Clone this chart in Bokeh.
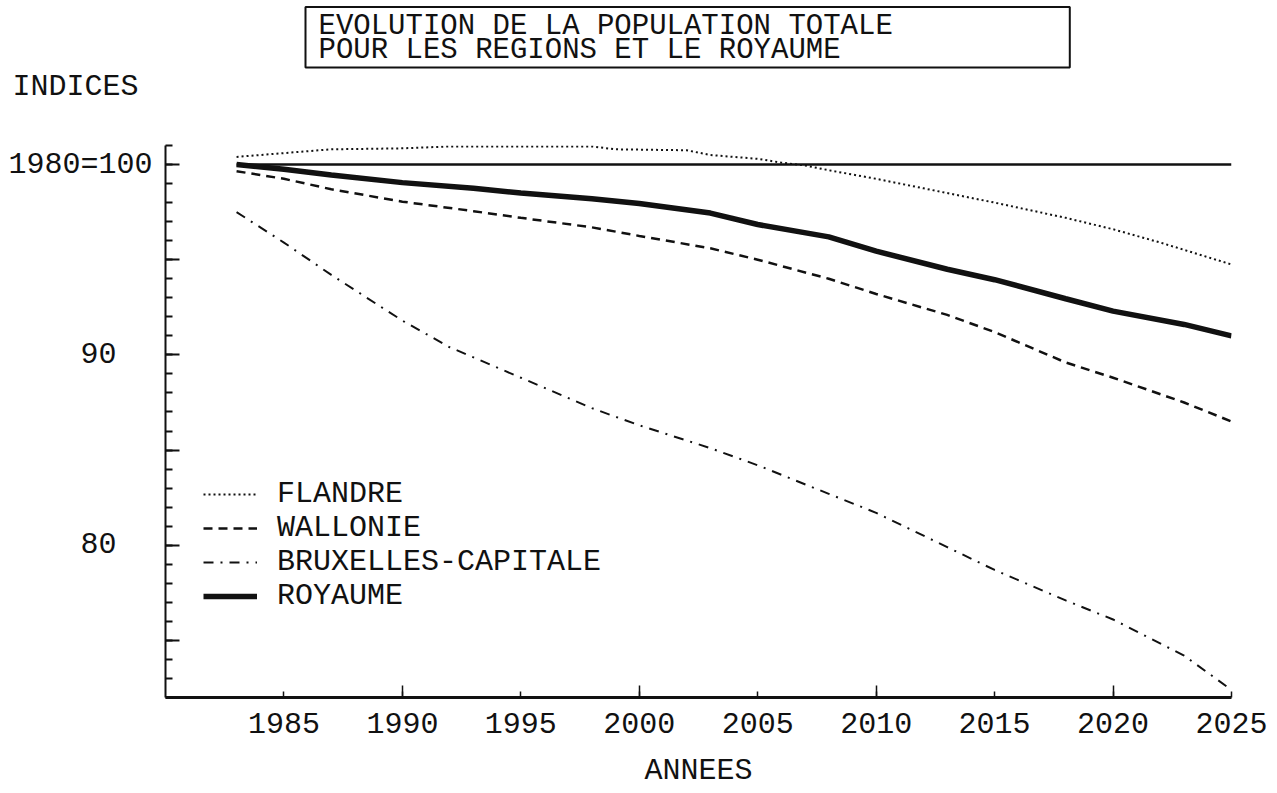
from bokeh.plotting import figure
from bokeh.models import Range1d, FixedTicker, Title
from bokeh.embed import file_html
from bokeh.resources import INLINE

FONT = "Liberation Mono"
INK = "#111111"

# ---- data -------------------------------------------------------------
X_TICKS = [1985, 1990, 1995, 2000, 2005, 2010, 2015, 2020, 2025]
X_LONG_TICKS = [1990, 2000, 2010, 2020]
Y_MAJOR = [75, 80, 85, 90, 95, 100]
Y_MINOR = [72, 73, 74, 75, 76, 77, 78, 79, 80, 81, 82, 83, 84, 85, 86,
           87, 88, 89, 90, 91, 92, 93, 94, 95, 96, 97, 98, 99, 100, 101]
# plotter prints the y labels in a fixed 8-character field
Y_LABELS = {100: "1980=100", 95: "", 90: "90\u00a0\u00a0", 85: "",
            80: "80\u00a0\u00a0", 75: ""}

FLANDRE_YEARS = [1983, 1985, 1987, 1990, 1992, 1995, 1998, 1999, 2002, 2003,
                 2005, 2006, 2007, 2008, 2010, 2012, 2015, 2018, 2020, 2022, 2025]
FLANDRE = [100.4, 100.6, 100.8, 100.85, 100.95, 100.95, 100.95, 100.8, 100.75, 100.5,
           100.3, 100.1, 99.95, 99.7, 99.25, 98.75, 98.0, 97.2, 96.6, 95.9, 94.75]

WALLONIE_YEARS = [1983, 1985, 1987, 1990, 1993, 1995, 1998, 2000, 2003, 2005,
                  2008, 2010, 2013, 2015, 2018, 2020, 2023, 2025]
WALLONIE = [99.65, 99.25, 98.7, 98.05, 97.55, 97.2, 96.7, 96.25, 95.6, 95.0,
            94.0, 93.2, 92.1, 91.2, 89.6, 88.8, 87.5, 86.5]

BRUXELLES_YEARS = [1983, 1985, 1987, 1990, 1992, 1995, 1998, 2000, 2003, 2005,
                   2008, 2010, 2013, 2015, 2018, 2020, 2023, 2025]
BRUXELLES = [97.5, 95.9, 94.2, 91.8, 90.4, 88.8, 87.2, 86.3, 85.1, 84.2,
             82.7, 81.7, 79.9, 78.7, 77.1, 76.1, 74.2, 72.4]

ROYAUME_YEARS = [1983, 1985, 1987, 1990, 1993, 1995, 1998, 2000, 2003, 2005,
                 2008, 2010, 2013, 2015, 2018, 2020, 2023, 2025]
ROYAUME = [100.0, 99.75, 99.45, 99.05, 98.75, 98.5, 98.2, 97.95, 97.45, 96.85,
           96.2, 95.45, 94.5, 93.95, 92.95, 92.3, 91.6, 91.0]

BASE_YEARS = [1983, 2025]
BASE = [100, 100]

SERIES_NAMES = ["FLANDRE", "WALLONIE", "BRUXELLES-CAPITALE", "ROYAUME"]
TITLE_LINES = ["EVOLUTION DE LA POPULATION TOTALE", "POUR LES REGIONS ET LE ROYAUME"]
Y_TITLE = "INDICES"
X_TITLE = "ANNEES"

# ---- figure -----------------------------------------------------------
p = figure(width=1270, height=793, output_backend="svg", toolbar_location=None,
           x_range=Range1d(1980, 2025), y_range=Range1d(72, 101),
           min_border_left=165, min_border_right=39,
           min_border_top=145, min_border_bottom=96)
p.outline_line_color = None
p.xgrid.visible = False
p.ygrid.visible = False
p.background_fill_color = "white"
p.border_fill_color = "white"

# x axis
xa = p.xaxis[0]
xa.ticker = FixedTicker(ticks=X_TICKS, minor_ticks=X_LONG_TICKS)
xa.axis_line_width = 3
xa.axis_line_color = INK
xa.major_tick_in = 6
xa.major_tick_out = 0
xa.minor_tick_in = 12
xa.minor_tick_out = 0
xa.major_tick_line_color = INK
xa.minor_tick_line_color = INK
xa.major_tick_line_width = 1.5
xa.minor_tick_line_width = 1.5
xa.major_label_text_font = FONT
xa.major_label_text_font_size = "30px"
xa.major_label_text_color = INK
xa.major_label_standoff = 15
xa.axis_label = X_TITLE
xa.axis_label_text_font = FONT
xa.axis_label_text_font_size = "30px"
xa.axis_label_text_font_style = "normal"
xa.axis_label_text_color = INK
xa.axis_label_standoff = 18

# y axis
ya = p.yaxis[0]
ya.ticker = FixedTicker(ticks=Y_MAJOR, minor_ticks=Y_MINOR)
ya.axis_line_width = 2
ya.axis_line_color = INK
ya.major_tick_in = 14
ya.major_tick_out = 0
ya.minor_tick_in = 7
ya.minor_tick_out = 0
ya.major_tick_line_color = INK
ya.minor_tick_line_color = INK
ya.major_tick_line_width = 2
ya.minor_tick_line_width = 2
ya.major_label_overrides = Y_LABELS
ya.major_label_text_font = FONT
ya.major_label_text_font_size = "30px"
ya.major_label_text_color = INK
ya.major_label_standoff = 13

# "INDICES" (nearest row above the frame)
p.add_layout(Title(text=Y_TITLE, align="left", offset=-153, standoff=0,
                   vertical_align="bottom",
                   padding=dict(left=0, right=0, top=0, bottom=42),
                   text_font=FONT, text_font_size="30px", text_font_style="normal",
                   text_color=INK), "above")

# boxed title (row above it)
p.add_layout(Title(text="\n".join(TITLE_LINES), align="left", offset=140, standoff=0,
                   vertical_align="bottom",
                   padding=dict(left=13, right=177, top=3, bottom=0),
                   text_font=FONT, text_font_size="29px", text_font_style="normal",
                   text_color=INK, text_line_height=0.74,
                   border_line_color=INK, border_line_width=2), "above")

# ---- lines ------------------------------------------------------------
p.line(BASE_YEARS, BASE, line_color=INK, line_width=2.5)
p.line(FLANDRE_YEARS, FLANDRE, line_color=INK, line_width=2, line_dash="2 3",
       legend_label=SERIES_NAMES[0])
p.line(WALLONIE_YEARS, WALLONIE, line_color=INK, line_width=2.5, line_dash="9 6",
       legend_label=SERIES_NAMES[1])
p.line(BRUXELLES_YEARS, BRUXELLES, line_color=INK, line_width=2, line_dash="10 7 2 7",
       legend_label=SERIES_NAMES[2])
p.line(ROYAUME_YEARS, ROYAUME, line_color=INK, line_width=5.5,
       legend_label=SERIES_NAMES[3])

lg = p.legend[0]
lg.location = (38, 84)
lg.padding = 0
lg.margin = 0
lg.spacing = 0
lg.border_line_alpha = 0
lg.background_fill_alpha = 0
lg.glyph_width = 54
lg.glyph_height = 30
lg.label_height = 30
lg.label_standoff = 20
lg.label_text_font = FONT
lg.label_text_font_size = "30px"
lg.label_text_color = INK
lg.label_text_line_height = 0.9

open("out.html", "w").write(file_html(p, INLINE))
